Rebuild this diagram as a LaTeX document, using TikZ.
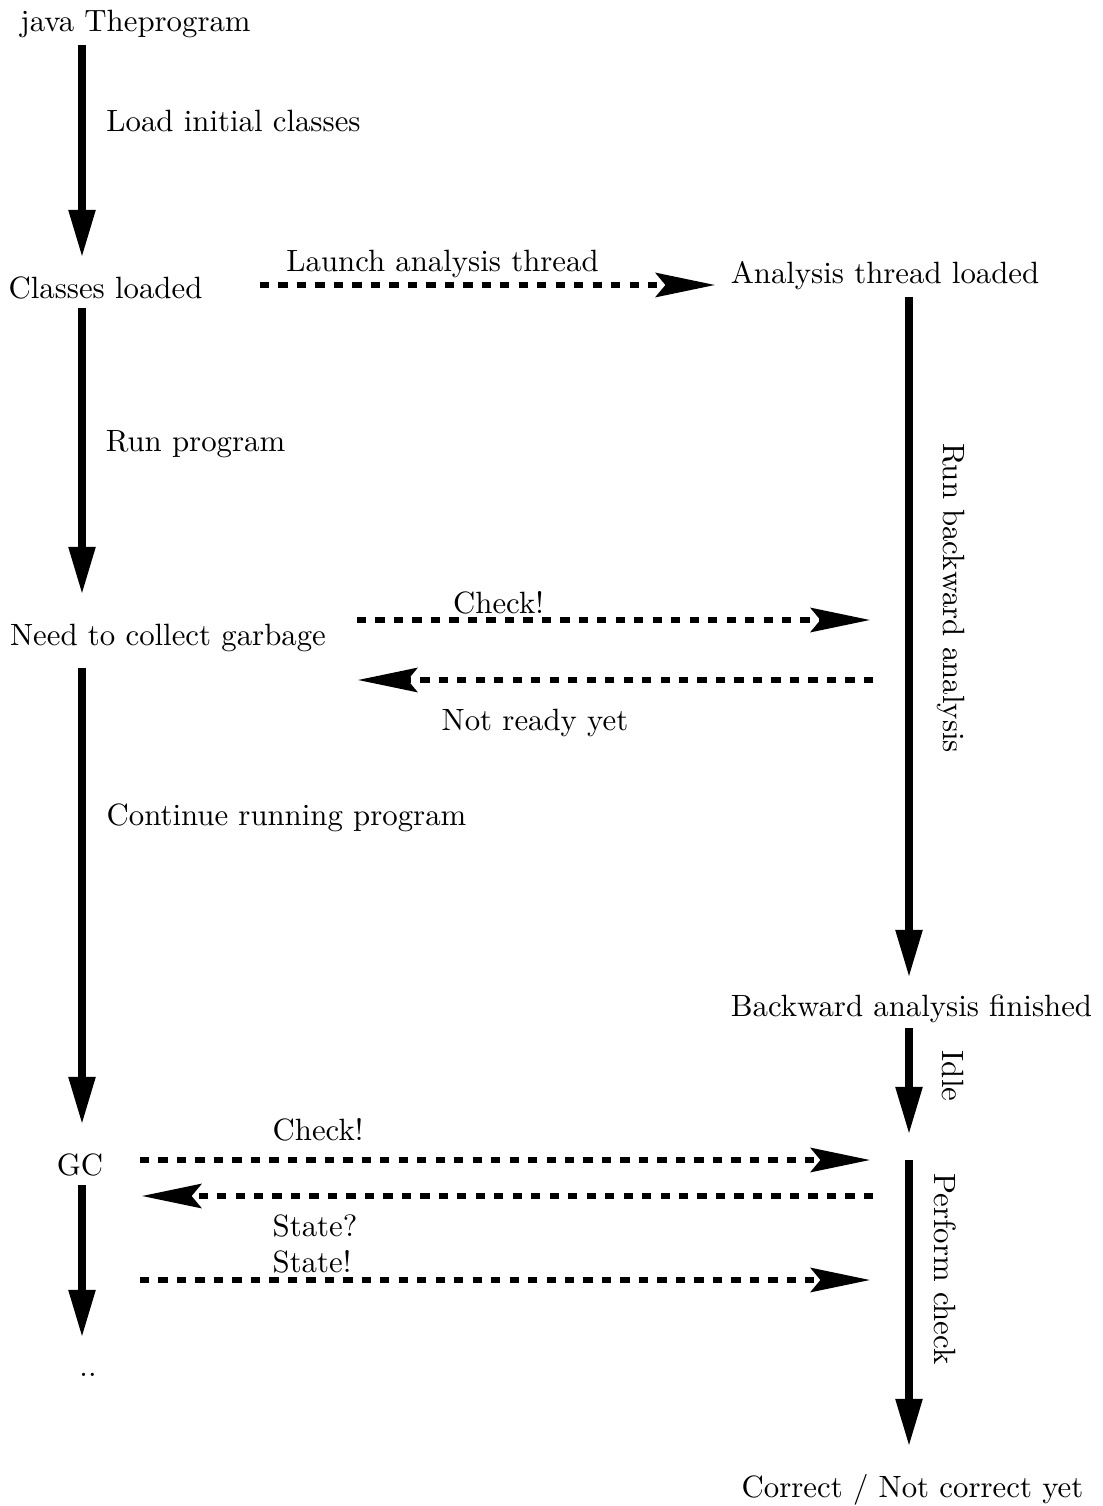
\documentclass[tikz,border=0pt]{standalone}
\usetikzlibrary{arrows.meta}
\begin{document}
\begin{tikzpicture}[x=0.3247pt, y=-0.3247pt,
  txt/.style={inner sep=0pt, anchor=center, yshift=-0.8pt},
  lbl/.style={inner sep=0pt, anchor=center, yshift=-0.8pt},
  rlbl/.style={inner sep=0pt, anchor=center, rotate=-90},
  flow/.style={line width=2.7pt, -{Triangle[length=15.6pt, width=8.1pt]}},
  msg/.style={line width=1.65pt, dashed, -{Stealth[length=19.3pt, width=7.9pt, inset=3.2pt]}}
]
\useasboundingbox (0,0) rectangle (1102,1506);

% main program column
\node[txt] (java)    at (135.5,22)  {java Theprogram};
\node[txt] (classes) at (105.5,286) {Classes loaded};
\node[txt] (need)    at (168,636)   {Need to collect garbage};
\node[txt] (gc)      at (80,1163)   {GC};
\node[txt] (dots)    at (88,1372)   {..};

% analysis thread column
\node[txt] (atl)     at (885,273)   {Analysis thread loaded};
\node[txt] (baf)     at (911.5,1006) {Backward analysis finished};
\node[txt] (corr)    at (912.5,1487) {Correct / Not correct yet};

% arrow end points, main column
\coordinate (a1s) at (82,45);   \coordinate (a1e) at (82,258);
\coordinate (a2s) at (82,308);  \coordinate (a2e) at (82,595);
\coordinate (a3s) at (82,668);  \coordinate (a3e) at (82,1125);
\coordinate (a4s) at (82,1185); \coordinate (a4e) at (82,1338);

% arrow end points, analysis column
\coordinate (b1s) at (909,297);  \coordinate (b1e) at (909,978);
\coordinate (b2s) at (909,1028); \coordinate (b2e) at (909,1135);
\coordinate (b3s) at (909,1160); \coordinate (b3e) at (909,1447);

% message end points
\coordinate (m1s) at (260,285);  \coordinate (m1e) at (715,285);
\coordinate (m2s) at (357,620);  \coordinate (m2e) at (870,620);
\coordinate (m3s) at (873,680);  \coordinate (m3e) at (358,680);
\coordinate (m4s) at (140,1160); \coordinate (m4e) at (870,1160);
\coordinate (m5s) at (873,1196); \coordinate (m5e) at (142,1196);
\coordinate (m6s) at (140,1280); \coordinate (m6e) at (870,1280);

% program flow
\draw[flow] (a1s) -- (a1e);
\draw[flow] (a2s) -- (a2e);
\draw[flow] (a3s) -- (a3e);
\draw[flow] (a4s) -- (a4e);
\node[lbl] (l1) at (233.5,119) {Load initial classes};
\node[lbl] (l2) at (195.5,442) {Run program};
\node[lbl] (l3) at (286.5,815) {Continue running program};

% analysis flow
\draw[flow] (b1s) -- (b1e);
\draw[flow] (b2s) -- (b2e);
\draw[flow] (b3s) -- (b3e);
\node[rlbl] (r1) at (951,598)  {Run backward analysis};
\node[rlbl] (r2) at (953,1076) {Idle};
\node[rlbl] (r3) at (945,1269) {Perform check};

% messages between the threads
\draw[msg] (m1s) -- (m1e);
\node[lbl] (t1) at (442.5,262) {Launch analysis thread};
\draw[msg] (m2s) -- (m2e);
\node[lbl] (t2) at (498.5,600) {Check!};
\draw[msg] (m3s) -- (m3e);
\node[lbl] (t3) at (535,720) {Not ready yet};
\draw[msg] (m4s) -- (m4e);
\node[lbl] (t4) at (318,1127) {Check!};
\draw[msg] (m5s) -- (m5e);
\node[lbl] (t5) at (315,1224) {State?};
\draw[msg] (m6s) -- (m6e);
\node[lbl] (t6) at (312,1259) {State!};
\end{tikzpicture}
\end{document}
